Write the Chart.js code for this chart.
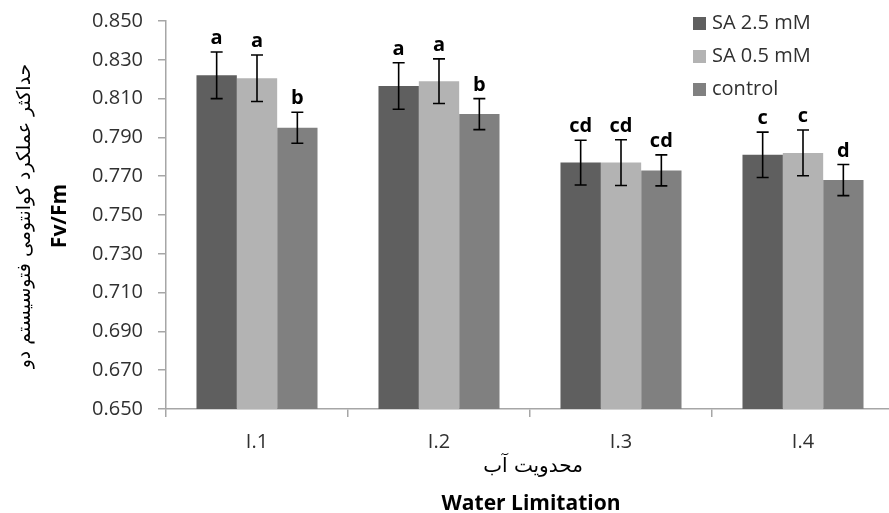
<!DOCTYPE html>
<html>
<head>
<meta charset="utf-8">
<script src="https://cdn.jsdelivr.net/npm/chart.js@4"></script>
<style>
  html, body { margin: 0; padding: 0; background: #fff; overflow: hidden; }
</style>
</head>
<body>
<canvas id="chart" width="900" height="513"></canvas>
<script>
const categories = ['I.1', 'I.2', 'I.3', 'I.4']
const sa25 = [0.822, 0.8165, 0.777, 0.781]
const sa05 = [0.8205, 0.819, 0.777, 0.782]
const control = [0.795, 0.802, 0.773, 0.768]
const errSa25 = [0.012, 0.012, 0.0115, 0.0117]
const errSa05 = [0.012, 0.0115, 0.0118, 0.0118]
const errControl = [0.008, 0.008, 0.008, 0.008]
const lettersSa25 = ['a', 'a', 'cd', 'c']
const lettersSa05 = ['a', 'a', 'cd', 'c']
const lettersControl = ['b', 'b', 'cd', 'd']
const yTicks = { min: 0.65, max: 0.85, step: 0.02 }

const errors = [errSa25, errSa05, errControl]
const letters = [lettersSa25, lettersSa05, lettersControl]
const colors = ['#5f5f5f', '#b3b3b3', '#808080']
const axisColor = '#a6a6a6'
const textColor = '#303030'

const extras = {
  id: 'extras',
  afterDatasetsDraw(chart) {
    const ctx = chart.ctx
    const y = chart.scales.y
    ctx.save()
    chart.data.datasets.forEach((ds, di) => {
      const meta = chart.getDatasetMeta(di)
      meta.data.forEach((bar, i) => {
        const v = ds.data[i]
        const e = errors[di][i]
        const top = y.getPixelForValue(v + e)
        const bot = y.getPixelForValue(v - e)
        ctx.strokeStyle = '#000'
        ctx.lineWidth = 1.6
        ctx.beginPath()
        ctx.moveTo(bar.x, top); ctx.lineTo(bar.x, bot)
        ctx.moveTo(bar.x - 6, top); ctx.lineTo(bar.x + 6, top)
        ctx.moveTo(bar.x - 6, bot); ctx.lineTo(bar.x + 6, bot)
        ctx.stroke()
        ctx.fillStyle = '#000'
        ctx.font = 'bold 20px "Open Sans"'
        ctx.textAlign = 'center'
        ctx.textBaseline = 'alphabetic'
        ctx.fillText(letters[di][i], bar.x, top - 8)
      })
    })
    ctx.restore()
  },
  afterDraw(chart) {
    const ctx = chart.ctx
    ctx.save()
    // legend
    chart.data.datasets.forEach((ds, i) => {
      const cy = 23 + i * 33
      ctx.fillStyle = ds.backgroundColor
      ctx.fillRect(693, cy - 6, 13, 13)
      ctx.fillStyle = textColor
      ctx.font = '20px "Open Sans"'
      ctx.textAlign = 'left'
      ctx.textBaseline = 'middle'
      ctx.fillText(ds.label, 712, cy)
    })
    // axis titles
    ctx.fillStyle = '#000'
    ctx.textAlign = 'center'
    ctx.textBaseline = 'middle'
    ctx.font = '20px "DejaVu Sans"'
    ctx.fillText('محدویت آب', 533, 467)
    ctx.font = 'bold 21px "Open Sans"'
    ctx.fillText('Water Limitation', 531, 504)
    ctx.save()
    ctx.translate(25, 216)
    ctx.rotate(-Math.PI / 2)
    ctx.font = '19px "DejaVu Sans"'
    ctx.fillText('حداکثر عملکرد کوانتومی فتوسیستم دو', 0, 0)
    ctx.restore()
    ctx.save()
    ctx.translate(60, 216)
    ctx.rotate(-Math.PI / 2)
    ctx.font = 'bold 21px "Open Sans"'
    ctx.fillText('Fv/Fm', 0, 0)
    ctx.restore()
    ctx.restore()
  }
}

new Chart(document.getElementById('chart'), {
  type: 'bar',
  data: {
    labels: categories,
    datasets: [
      { label: 'SA 2.5 mM', data: sa25, backgroundColor: colors[0] },
      { label: 'SA 0.5 mM', data: sa05, backgroundColor: colors[1] },
      { label: 'control', data: control, backgroundColor: colors[2] }
    ]
  },
  options: {
    responsive: false,
    animation: false,
    layout: { padding: { top: 21, right: 6, left: 0, bottom: 0 } },
    datasets: {
      bar: { categoryPercentage: 0.665, barPercentage: 1 }
    },
    plugins: {
      legend: { display: false },
      tooltip: { enabled: false }
    },
    scales: {
      x: {
        afterFit: s => { s.height = 104 },
        border: { display: true, color: axisColor, width: 1.5 },
        grid: { display: true, drawOnChartArea: false, drawTicks: true, tickLength: 8, color: axisColor, lineWidth: 1.5 },
        ticks: { color: textColor, font: { family: 'Open Sans', size: 20 }, padding: 13 }
      },
      y: {
        min: yTicks.min,
        max: yTicks.max,
        afterFit: s => { s.width = 166; s.paddingTop = 0; s.paddingBottom = 0 },
        border: { display: true, color: axisColor, width: 1.5 },
        grid: { display: true, drawOnChartArea: false, drawTicks: true, tickLength: 8, color: axisColor, lineWidth: 1.5 },
        ticks: {
          stepSize: yTicks.step,
          color: textColor,
          font: { family: 'Open Sans', size: 20 },
          padding: 15,
          callback: v => v.toFixed(3)
        }
      }
    }
  },
  plugins: [extras]
})
</script>
</body>
</html>
